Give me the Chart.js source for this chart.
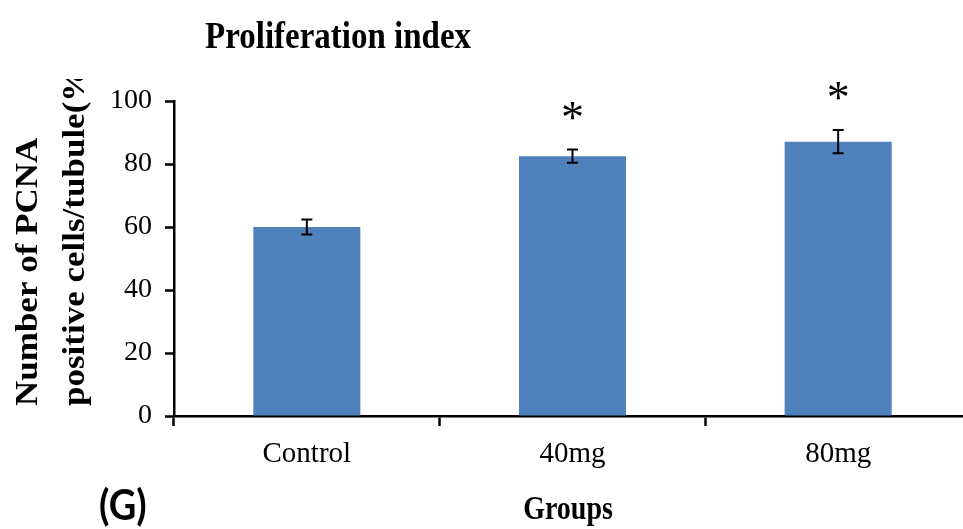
<!DOCTYPE html>
<html>
<head>
<meta charset="utf-8">
<script src="https://cdn.jsdelivr.net/npm/chart.js@4"></script>
<style>
  html, body { margin: 0; padding: 0; background: #fff; overflow: hidden; }
  #wrap { width: 963px; height: 529px; overflow: hidden; position: relative; }
  #wrap canvas { display: block; }
</style>
</head>
<body>
<div id="wrap"><canvas id="c" width="971" height="529"></canvas></div>
<script>
// PCNA proliferation index per group (mean ± error)
const groups = ['Control', '40mg', '80mg'];
const meanValues = [60, 82.5, 87.1];
const errorValues = [2.4, 2.1, 3.7];
const significance = ['', '*', '*'];
const yTicks = [0, 20, 40, 60, 80, 100];

const chartTitle = 'Proliferation index';
const yTitleLines = ['Number of PCNA', 'positive cells/tubule(%)'];
const xTitle = 'Groups';
const panelLabel = '(G)';

const SERIF = '"Liberation Serif", "Times New Roman", serif';

// Error bars with caps, plus significance stars above them
const errorBarPlugin = {
  id: 'errorBars',
  afterDatasetsDraw(chart) {
    const ctx = chart.ctx;
    const meta = chart.getDatasetMeta(0);
    const y = chart.scales.y;
    ctx.save();
    ctx.strokeStyle = '#000';
    ctx.lineWidth = 2;
    meta.data.forEach((bar, i) => {
      const top = y.getPixelForValue(meanValues[i] + errorValues[i]);
      const bot = y.getPixelForValue(meanValues[i] - errorValues[i]);
      const x = bar.x;
      const cap = 5.5;
      ctx.beginPath();
      ctx.moveTo(x, top); ctx.lineTo(x, bot);
      ctx.moveTo(x - cap, top); ctx.lineTo(x + cap, top);
      ctx.moveTo(x - cap, bot); ctx.lineTo(x + cap, bot);
      ctx.stroke();
      if (significance[i]) {
        ctx.fillStyle = '#000';
        ctx.font = '46px ' + SERIF;
        ctx.textAlign = 'center';
        ctx.textBaseline = 'alphabetic';
        ctx.fillText(significance[i], x, top - 17);
      }
    });
    ctx.restore();
  }
};

// Text drawn with a vertical stretch factor
function stretchedText(ctx, text, x, y, sy) {
  ctx.save();
  ctx.translate(x, y);
  ctx.scale(1, sy);
  ctx.fillText(text, 0, 0);
  ctx.restore();
}

// Titles drawn around the plot area
const textPlugin = {
  id: 'chartTexts',
  afterDraw(chart) {
    const ctx = chart.ctx;
    const area = chart.chartArea;
    ctx.save();
    ctx.fillStyle = '#000';
    // chart title
    ctx.font = 'bold 33px ' + SERIF;
    ctx.textAlign = 'left';
    ctx.textBaseline = 'alphabetic';
    stretchedText(ctx, chartTitle, 205, 48, 1.12);
    // y axis title, two lines reading upward; the block is cut off at the top
    ctx.save();
    ctx.beginPath();
    ctx.rect(0, 79, 110, 340);
    ctx.clip();
    ctx.font = 'bold 35px ' + SERIF;
    const baselines = [37, 84];
    yTitleLines.forEach((line, k) => {
      ctx.save();
      ctx.translate(baselines[k], 406);
      ctx.rotate(-Math.PI / 2);
      ctx.scale(1, 0.88);
      ctx.textAlign = 'left';
      ctx.textBaseline = 'alphabetic';
      ctx.fillText(line, 0, 0);
      ctx.restore();
    });
    ctx.restore();
    // x axis title
    ctx.font = 'bold 28px ' + SERIF;
    ctx.textAlign = 'center';
    stretchedText(ctx, xTitle, 568, 519, 1.18);
    // panel label
    ctx.font = 'bold 38px Lato, "Liberation Sans", sans-serif';
    ctx.textAlign = 'left';
    stretchedText(ctx, panelLabel, 99, 520, 1.12);
    ctx.restore();
  }
};

new Chart(document.getElementById('c'), {
  type: 'bar',
  data: {
    labels: groups,
    datasets: [{
      data: meanValues,
      backgroundColor: '#4f81bd',
      borderWidth: 0,
      barPercentage: 0.403,
      categoryPercentage: 1.0
    }]
  },
  options: {
    responsive: false,
    animation: false,
    events: [],
    layout: { padding: { top: 101, left: 0, right: 0, bottom: 0 } },
    plugins: {
      legend: { display: false },
      tooltip: { enabled: false },
      title: { display: false }
    },
    scales: {
      x: {
        offset: true,
        grid: {
          offset: true,
          drawOnChartArea: false,
          drawTicks: true,
          tickLength: 10,
          tickColor: '#000',
          tickWidth: 2.5
        },
        border: { display: true, color: '#000', width: 2.5 },
        ticks: {
          color: '#000',
          font: { family: SERIF, size: 29 },
          padding: 11,
          maxRotation: 0
        },
        afterFit(scale) { scale.height = 113; }
      },
      y: {
        min: 0,
        max: 100,
        afterBuildTicks(scale) { scale.ticks = yTicks.map(v => ({ value: v })); },
        grid: {
          drawOnChartArea: false,
          drawTicks: true,
          tickLength: 9,
          tickColor: '#000',
          tickWidth: 2.5
        },
        border: { display: true, color: '#000', width: 2.5 },
        ticks: {
          color: '#000',
          font: { family: SERIF, size: 28 },
          padding: 13
        },
        afterFit(scale) { scale.width = 174; }
      }
    }
  },
  plugins: [errorBarPlugin, textPlugin]
});
</script>
</body>
</html>
